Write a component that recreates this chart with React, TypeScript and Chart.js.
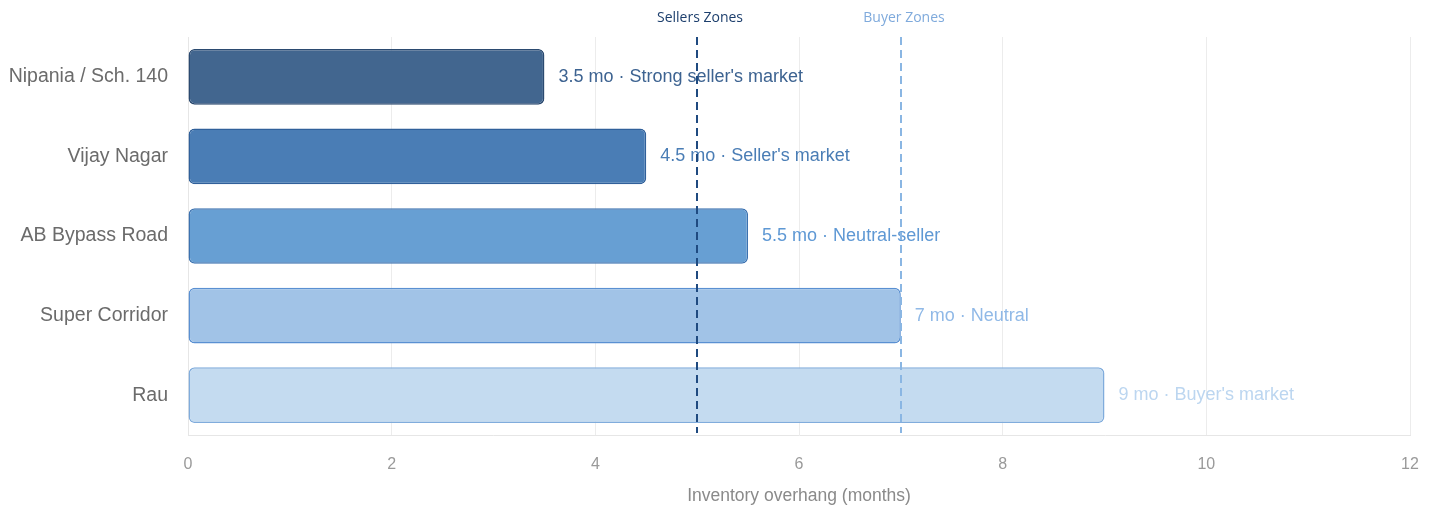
import React, { useEffect, useRef } from "react";
import { Chart, registerables } from "chart.js";

Chart.register(...registerables);

const categories = ["Nipania / Sch. 140", "Vijay Nagar", "AB Bypass Road", "Super Corridor", "Rau"];
const months = [3.5, 4.5, 5.5, 7, 9];
const statusLabels = ["Strong seller's market", "Seller's market", "Neutral-seller", "Neutral", "Buyer's market"];
const barFills = ["#42668f", "#4a7db5", "#679fd3", "#a1c3e7", "#c4dbf0"];
const barBorders = ["#2b4a70", "#30609a", "#3c72b0", "#5a90d2", "#80acdc"];
const labelColors = ["#3d6391", "#4a7db5", "#5e98d4", "#90b9e7", "#bcd6f0"];
const xTicks = [0, 2, 4, 6, 8, 10, 12];
const zoneLines = [
  { value: 5, text: "Sellers Zones", color: "#1f4a80", textColor: "#1d3f6d" },
  { value: 7, text: "Buyer Zones", color: "#8ab6e3", textColor: "#7faadc" },
];

const FONT = "'Liberation Sans', Arial, Helvetica, sans-serif";

const barLabelPlugin = {
  id: "barLabels",
  afterDatasetsDraw(chart: any) {
    const ctx = chart.ctx;
    const meta = chart.getDatasetMeta(0);
    ctx.save();
    ctx.font = `18px ${FONT}`;
    ctx.textAlign = "left";
    ctx.textBaseline = "middle";
    meta.data.forEach((el: any, i: number) => {
      ctx.fillStyle = labelColors[i];
      ctx.fillText(`${months[i]} mo · ${statusLabels[i]}`, el.x + 14, el.y);
    });
    ctx.restore();
  },
};

const zonePlugin = {
  id: "zones",
  afterDraw(chart: any) {
    const ctx = chart.ctx;
    const { top, bottom } = chart.chartArea;
    const xs = chart.scales.x;
    ctx.save();
    zoneLines.forEach((z) => {
      const x = Math.round(xs.getPixelForValue(z.value));
      ctx.strokeStyle = z.color;
      ctx.lineWidth = 2;
      ctx.setLineDash([8, 5]);
      ctx.beginPath();
      ctx.moveTo(x, top);
      ctx.lineTo(x, bottom - 2);
      ctx.stroke();
      ctx.setLineDash([]);
      ctx.font = "14px 'Open Sans', sans-serif";
      ctx.fillStyle = z.textColor;
      ctx.textAlign = "center";
      ctx.textBaseline = "middle";
      ctx.fillText(z.text, x + 3, 18);
    });
    ctx.restore();
  },
};

export default function App() {
  const ref = useRef<HTMLCanvasElement>(null);
  useEffect(() => {
    document.body.style.margin = "0";
    const chart = new Chart(ref.current!, {
      type: "bar",
      data: {
        labels: categories,
        datasets: [
          {
            data: months,
            backgroundColor: barFills,
            borderColor: barBorders,
            borderWidth: 1.5,
            borderRadius: 6,
            borderSkipped: false,
            barPercentage: 0.7,
            categoryPercentage: 1,
          },
        ],
      },
      options: {
        indexAxis: "y",
        animation: false,
        responsive: true,
        maintainAspectRatio: false,
        layout: { padding: { top: 37, right: 24, left: 4, bottom: 0 } },
        plugins: { legend: { display: false }, tooltip: { enabled: false } },
        scales: {
          x: {
            min: 0,
            max: 12,
            afterBuildTicks: (s: any) => {
              s.ticks = xTicks.map((v) => ({ value: v }));
            },
            afterFit: (s: any) => {
              s.height = 70;
            },
            grid: { color: "#ececec", drawTicks: true, tickLength: 17, tickColor: "rgba(0,0,0,0)", lineWidth: 1 },
            border: { display: true, color: "#e6e6e6" },
            ticks: { color: "#9a9a9a", font: { size: 16, family: FONT }, padding: 3 },
            title: {
              display: true,
              text: "Inventory overhang (months)",
              color: "#8a8a8a",
              font: { size: 17.5, family: FONT },
              padding: { top: 8, bottom: -2 },
            },
          },
          y: {
            afterFit: (s: any) => {
              s.width = 184;
            },
            grid: { display: false, drawTicks: false },
            border: { display: true, color: "#e6e6e6" },
            ticks: { color: "#6b6b6b", font: { size: 19.5, family: FONT }, padding: 20 },
          },
        },
      },
      plugins: [barLabelPlugin, zonePlugin],
    });
    return () => chart.destroy();
  }, []);
  return (
    <div style={{ width: "1434px", height: "505px", position: "relative" }}>
      <canvas ref={ref} />
    </div>
  );
}
